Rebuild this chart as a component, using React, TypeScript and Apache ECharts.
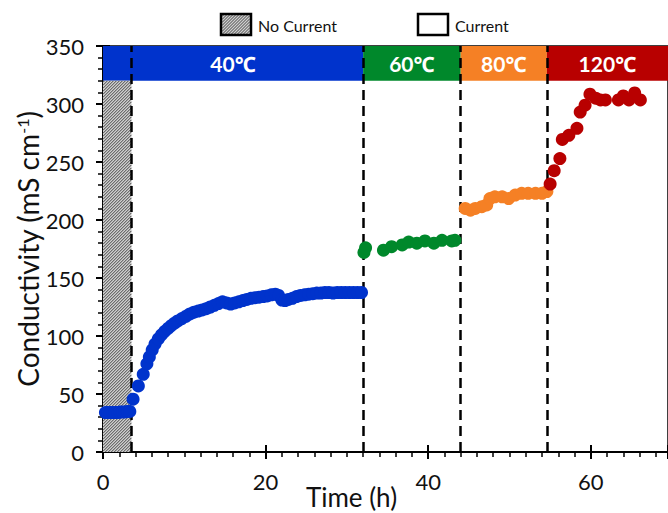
import React, { useEffect, useRef } from "react";
import * as echarts from "echarts";

const FONT = "Lato, 'Noto Sans', sans-serif";

// Data: [time (h), conductivity (mS cm-1)]
const blue40: number[][] = [
  [0.3, 34], [0.6, 34], [0.9, 34], [1.2, 34], [1.5, 34], [1.8, 34], [2.1, 34.5], [2.4, 34.5],
  [2.7, 34.5], [3.0, 35], [3.3, 35],
  [3.7, 45.5], [4.35, 57], [4.95, 67], [5.4, 76], [5.7, 82], [6.05, 88], [6.4, 93], [6.8, 97.5],
  [7.2, 101], [7.6, 104], [8.0, 106.5], [8.4, 109], [8.8, 111], [9.2, 113], [9.7, 115],
  [10.2, 117], [10.7, 119], [11.2, 120.5], [11.7, 121.5], [12.2, 122.5], [12.7, 123.5],
  [13.2, 125], [13.7, 126.5], [14.2, 128], [14.7, 129.5], [15.2, 128.5], [15.7, 127.5],
  [16.2, 128.5], [16.7, 129.5], [17.2, 130.5], [17.7, 131.5], [18.2, 132.5], [18.7, 133],
  [19.2, 133.5], [19.7, 134], [20.2, 134.5], [20.7, 135.5], [21.2, 136], [21.6, 135],
  [22.0, 131], [22.4, 130.5], [22.8, 131.5], [23.3, 132.5], [23.8, 134], [24.3, 135],
  [24.8, 135.5], [25.3, 136], [25.8, 136.5], [26.3, 137], [26.8, 137], [27.3, 137.5],
  [27.8, 137.5], [28.3, 137], [28.8, 137.5], [29.3, 137.5], [29.8, 137.5], [30.3, 137.5],
  [30.8, 137.5], [31.3, 137.5], [31.8, 137.5],
];
const green60: number[][] = [
  [32.1, 172], [32.3, 176], [34.5, 174], [35.5, 177], [36.8, 178.5], [37.6, 181], [38.6, 180],
  [39.6, 182], [40.7, 180], [41.7, 182.5], [42.9, 182], [43.3, 182.5],
];
const orange80: number[][] = [
  [44.55, 210], [45.2, 208.5], [45.8, 210], [46.6, 211.5], [47.2, 213], [47.6, 218.5],
  [48.2, 220], [49.1, 220], [49.9, 218.5], [50.7, 221.5], [51.5, 223], [52.3, 223],
  [53.2, 223], [54.0, 223], [54.6, 224.5],
];
const red120: number[][] = [
  [55.0, 231], [55.5, 242.5], [56.2, 253], [56.5, 269.5], [57.3, 273], [58.3, 279],
  [58.7, 293], [59.3, 299], [59.9, 308.5], [60.6, 305], [61.2, 303.5], [61.8, 303.5],
  [63.4, 303.5], [64.0, 307], [64.7, 303.5], [65.4, 309.5], [66.1, 303.5],
];

// Stage boundaries (h) and labels
const stageBounds = [0, 32, 44, 54.6, 69.5];
const stageLabels = ["40℃", "60℃", "80℃", "120℃"];
const stageColors = ["#0033CC", "#00882B", "#F58025", "#B80000"];
const dashedTimes = [3.5, 32, 44, 54.6];
const noCurrentRange = [0, 3.5, 0, 320];
const bandRange = [320, 350];

const X_MAX = 69.5;

function hatchLines(x0: number, y0: number, x1: number, y1: number, step: number) {
  const out: number[][][] = [];
  for (let c = x0 + y0 + step / 2; c < x1 + y1; c += step) {
    const ys = Math.min(y1, c - x0);
    const ye = Math.max(y0, c - x1);
    if (ys >= ye) out.push([[c - ys, ys], [c - ye, ye]]);
  }
  return out;
}

export default function App() {
  const ref = useRef<HTMLDivElement>(null);
  useEffect(() => {
    if (!ref.current) return;
    const chart = echarts.init(ref.current, undefined, { renderer: "svg" });

    const legendHatch = hatchLines(222, 15, 250, 34, 3).map((seg) => ({
      type: "line",
      shape: { x1: seg[0][0], y1: seg[0][1], x2: seg[1][0], y2: seg[1][1] },
      style: { stroke: "#444", lineWidth: 1 },
    }));

    const axisCommon = {
      type: "value" as const,
      splitLine: { show: false },
    };

    chart.setOption({
      animation: false,
      backgroundColor: "#fff",
      grid: {
        left: 103, right: 0, top: 46, bottom: 61,
        outerBoundsMode: "none",
        containLabel: false,
        show: true, borderColor: "#000", borderWidth: 1.5,
      },
      xAxis: [
        {
          ...axisCommon,
          min: 0,
          max: X_MAX,
          interval: 20,
          axisLine: { lineStyle: { color: "#000", width: 2 } },
          axisTick: { length: 7, lineStyle: { color: "#000", width: 2 } },
          minorTick: { show: true, splitNumber: 10, length: 5, lineStyle: { color: "#000", width: 1.5 } },
          axisLabel: { fontSize: 22, fontFamily: FONT, color: "#111", margin: 18, showMaxLabel: false },
          name: "Time (h)",
          nameLocation: "middle",
          nameGap: 32,
          nameMoveOverlap: false,
          nameTextStyle: { fontSize: 26, fontFamily: FONT, color: "#111", padding: [0, 68, 0, 0], lineHeight: 26 },
        },
        {
          ...axisCommon,
          position: "bottom",
          min: 0,
          max: X_MAX,
          interval: 20,
          axisLine: { show: false },
          axisTick: { inside: true, length: 7, lineStyle: { color: "#000", width: 2 } },
          axisLabel: { show: false },
        },
      ],
      yAxis: [
        {
          ...axisCommon,
          min: 0,
          max: 350,
          interval: 50,
          axisLine: { show: true, lineStyle: { color: "#000", width: 2 } },
          axisTick: { show: true, length: 7, lineStyle: { color: "#000", width: 2 } },
          minorTick: { show: true, splitNumber: 5, length: 5, lineStyle: { color: "#000", width: 1.5 } },
          axisLabel: { fontSize: 22, fontFamily: FONT, color: "#111", margin: 19 },
          name: "Conductivity (mS cm{sup|-1})",
          nameLocation: "middle",
          nameGap: 61,
          nameMoveOverlap: false,
          nameTextStyle: {
            fontSize: 28,
            fontFamily: FONT,
            color: "#111",
            rich: { sup: { fontSize: 16, fontFamily: FONT, color: "#111", verticalAlign: "top" } },
          },
        },
        {
          ...axisCommon,
          position: "left",
          min: 0,
          max: 350,
          interval: 50,
          axisLine: { show: false },
          axisTick: { show: true, inside: true, length: 7, lineStyle: { color: "#000", width: 2 } },
          axisLabel: { show: false },
        },
      ],
      graphic: [
        { type: "rect", shape: { x: 221, y: 14, width: 30, height: 21 }, style: { fill: "#cfcfcf", stroke: "none" } },
        ...legendHatch,
        { type: "rect", shape: { x: 221, y: 14, width: 30, height: 21 }, style: { fill: "none", stroke: "#000", lineWidth: 2.5 } },
        { type: "text", x: 258, y: 25, style: { text: "No Current", fontSize: 16, fontFamily: FONT, fill: "#111", verticalAlign: "middle" } },
        { type: "rect", shape: { x: 418, y: 14, width: 30, height: 21 }, style: { fill: "#fff", stroke: "#000", lineWidth: 2.5 } },
        { type: "text", x: 455, y: 25, style: { text: "Current", fontSize: 16, fontFamily: FONT, fill: "#111", verticalAlign: "middle" } },
      ],
      series: [
        {
          type: "custom",
          name: "No Current",
          silent: true,
          z: 1,
          data: [noCurrentRange],
          encode: { x: [0, 1], y: [2, 3] },
          renderItem: (params: any, api: any) => {
            const p0 = api.coord([api.value(0), api.value(3)]);
            const p1 = api.coord([api.value(1), api.value(2)]);
            const segs = hatchLines(p0[0], p0[1], p1[0], p1[1], 3);
            return {
              type: "group",
              children: [
                { type: "rect", shape: { x: p0[0], y: p0[1], width: p1[0] - p0[0], height: p1[1] - p0[1] }, style: { fill: "#cfcfcf" } },
                ...segs.map((s) => ({
                  type: "line",
                  shape: { x1: s[0][0], y1: s[0][1], x2: s[1][0], y2: s[1][1] },
                  style: { stroke: "#444", lineWidth: 1 },
                })),
              ],
            };
          },
        },
        {
          type: "scatter",
          name: "bands",
          data: [],
          z: 2,
          silent: true,
          markArea: {
            silent: true,
            data: stageLabels.map((lab, i) => [
              {
                xAxis: stageBounds[i],
                yAxis: bandRange[1],
                itemStyle: { color: stageColors[i], opacity: 1 },
                label: { show: true, position: "inside", formatter: lab, color: "#fff", fontSize: 21, fontWeight: "bold", fontFamily: FONT },
              },
              { xAxis: stageBounds[i + 1], yAxis: bandRange[0] },
            ]),
          },
        },
        {
          type: "scatter",
          name: "dashes",
          data: [],
          z: 3,
          silent: true,
          markLine: {
            silent: true,
            symbol: "none",
            label: { show: false },
            lineStyle: { color: "#000", width: 2.5, type: [10, 6] },
            data: dashedTimes.map((t) => ({ xAxis: t })),
          },
        },
        { type: "scatter", name: "40", data: blue40, symbolSize: 13, z: 5, itemStyle: { color: stageColors[0], opacity: 1 } },
        { type: "scatter", name: "60", data: green60, symbolSize: 13, z: 5, itemStyle: { color: stageColors[1], opacity: 1 } },
        { type: "scatter", name: "80", data: orange80, symbolSize: 13, z: 5, itemStyle: { color: stageColors[2], opacity: 1 } },
        { type: "scatter", name: "120", data: red120, symbolSize: 13, z: 5, itemStyle: { color: stageColors[3], opacity: 1 } },
      ],
    });
    return () => chart.dispose();
  }, []);
  return <div ref={ref} style={{ width: 668, height: 513, position: "absolute", left: 0, top: 0 }} />;
}
